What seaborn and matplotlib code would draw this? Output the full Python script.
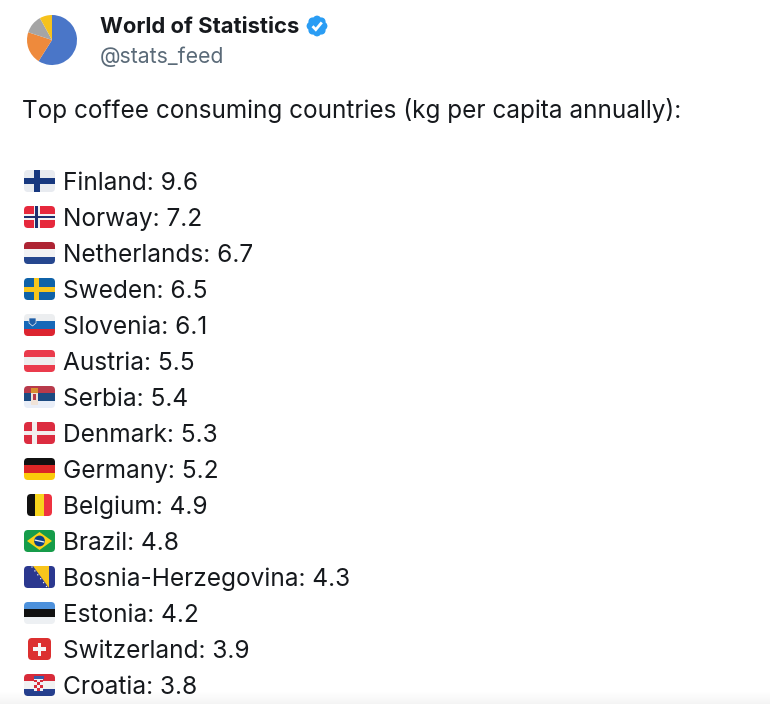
import matplotlib

matplotlib.use("Agg")

import matplotlib.pyplot as plt
import numpy as np
import seaborn as sns
from matplotlib.patches import Circle, FancyBboxPatch, Polygon, Rectangle

countries = [
    "Finland", "Norway", "Netherlands", "Sweden", "Slovenia",
    "Austria", "Serbia", "Denmark", "Germany", "Belgium",
    "Brazil", "Bosnia-Herzegovina", "Estonia", "Switzerland", "Croatia",
]
consumption = [9.6, 7.2, 6.7, 6.5, 6.1, 5.5, 5.4, 5.3, 5.2, 4.9, 4.8, 4.3, 4.2, 3.9, 3.8]

account_name = "World of Statistics"
account_handle = "@stats_feed"
headline = "Top coffee consuming countries (kg per capita annually):"

avatar_shares = [59, 21, 12, 8]
avatar_colors = ["#4a76c8", "#ee8a3c", "#a5a5a5", "#f6c21c"]

INK = "#16191d"
MUTED = "#5a6a78"
FONT = "Inter"
ROW_START = 181
ROW_STEP = 36


def flag_base(ax, cy, left=24, right=55):
    box = FancyBboxPatch((left + 3, cy - 8), right - left - 6, 16,
                         boxstyle="round,pad=3,rounding_size=4", fc="none", ec="none")
    ax.add_patch(box)
    return box


def paint(ax, clip, patch):
    ax.add_patch(patch)
    patch.set_clip_path(clip)
    return patch


def rect(ax, clip, x, y, w, h, color):
    paint(ax, clip, Rectangle((x, y), w, h, fc=color, ec="none"))


def h_stripes(ax, cy, colors, left=24, right=55):
    clip = flag_base(ax, cy, left, right)
    step = 22 / len(colors)
    for i, color in enumerate(colors):
        rect(ax, clip, left, cy - 11 + i * step, right - left, step + 0.2, color)
    return clip


def v_stripes(ax, cy, colors, left, right):
    clip = flag_base(ax, cy, left, right)
    step = (right - left) / len(colors)
    for i, color in enumerate(colors):
        rect(ax, clip, left + i * step, cy - 11, step + 0.2, 22, color)
    return clip


def nordic(ax, cy, bg, arm, arm_w, inner=None, inner_w=0):
    clip = h_stripes(ax, cy, [bg])
    rect(ax, clip, 36.5 - arm_w / 2, cy - 11, arm_w, 22, arm)
    rect(ax, clip, 24, cy - arm_w / 2, 31, arm_w, arm)
    if inner:
        rect(ax, clip, 36.5 - inner_w / 2, cy - 11, inner_w, 22, inner)
        rect(ax, clip, 24, cy - inner_w / 2, 31, inner_w, inner)


def draw_flag(ax, name, cy):
    if name == "Finland":
        nordic(ax, cy, "#e8ebf0", "#17387f", 6)
    elif name == "Norway":
        nordic(ax, cy, "#e6283c", "#f2f2f2", 6, "#1d2f6f", 2.6)
    elif name == "Netherlands":
        h_stripes(ax, cy, ["#ae2433", "#f2f2f4", "#26478f"])
    elif name == "Sweden":
        nordic(ax, cy, "#0f62a8", "#f7c61d", 5)
    elif name == "Slovenia":
        clip = h_stripes(ax, cy, ["#eceef0", "#1668b8", "#dc2430"])
        paint(ax, clip, Polygon([(29, cy - 7), (36, cy - 7), (36, cy - 2), (32.5, cy + 1), (29, cy - 2)],
                                fc="#1f5fa8", ec="#eeeeee", lw=0.5))
    elif name == "Austria":
        h_stripes(ax, cy, ["#ea3b4c", "#eeeeee", "#ea3b4c"])
    elif name == "Serbia":
        clip = h_stripes(ax, cy, ["#b83a4b", "#1c4b82", "#e9eef8"])
        rect(ax, clip, 31, cy - 9, 7, 17, "#f0e3d8")
        rect(ax, clip, 31, cy - 9, 7, 5, "#d9902f")
        rect(ax, clip, 33, cy - 3, 3, 6, "#b83a4b")
    elif name == "Denmark":
        clip = h_stripes(ax, cy, ["#dc2c40"])
        rect(ax, clip, 32, cy - 11, 4.5, 22, "#f2eeee")
        rect(ax, clip, 24, cy - 2.2, 31, 4.4, "#f2eeee")
    elif name == "Germany":
        h_stripes(ax, cy, ["#111111", "#dc2626", "#fbcb0a"])
    elif name == "Belgium":
        v_stripes(ax, cy, ["#111111", "#f7d51d", "#ee3340"], 27, 52)
    elif name == "Brazil":
        clip = h_stripes(ax, cy, ["#169c4a"])
        paint(ax, clip, Polygon([(27, cy), (39.5, cy - 9), (52, cy), (39.5, cy + 9)], fc="#fbd116", ec="none"))
        paint(ax, clip, Circle((39.5, cy), 5.4, fc="#0d3f88", ec="none"))
        paint(ax, clip, Rectangle((34.5, cy - 0.6), 10, 1.3, angle=12, rotation_point="center", fc="#eeeeee", ec="none"))
    elif name == "Bosnia-Herzegovina":
        clip = h_stripes(ax, cy, ["#2b388f"])
        paint(ax, clip, Polygon([(33, cy - 11), (49, cy - 11), (49, cy + 11)], fc="#f8c51c", ec="none"))
        for k in range(6):
            paint(ax, clip, Circle((32 + k * 2.9, cy - 10 + k * 3.9), 0.7, fc="#f2f2f2", ec="none"))
    elif name == "Estonia":
        h_stripes(ax, cy, ["#4d91dc", "#111111", "#edf0f3"])
    elif name == "Switzerland":
        clip = v_stripes(ax, cy, ["#dc3030"], 28, 51)
        rect(ax, clip, 37.7, cy - 6.5, 3.6, 13, "#f6f6f6")
        rect(ax, clip, 33, cy - 1.8, 13, 3.6, "#f6f6f6")
    elif name == "Croatia":
        clip = h_stripes(ax, cy, ["#d82b3a", "#f1f1f1", "#26408f"])
        rect(ax, clip, 34, cy - 7, 9, 13, "#eef0f6")
        for row in range(4):
            for col in range(3):
                if (row + col) % 2 == 0:
                    rect(ax, clip, 34 + col * 3, cy - 5.5 + row * 2.8, 3, 2.8, "#d82b3a")
        rect(ax, clip, 33.5, cy - 9, 10, 3, "#3a59a8")


def draw_badge(ax, cx, cy):
    for angle in np.arange(8) * np.pi / 4:
        ax.add_patch(Circle((cx + 6.2 * np.cos(angle), cy + 6.2 * np.sin(angle)), 4.2, fc="#2a9df4", ec="none"))
    ax.add_patch(Circle((cx, cy), 7, fc="#2a9df4", ec="none"))
    ax.plot([cx - 4.5, cx - 1.2, cx + 4.8], [cy + 0.2, cy + 3.6, cy - 3.6], color="white", lw=2.0,
            solid_capstyle="butt", solid_joinstyle="miter")


sns.set_theme(style="white")
plt.rcParams["font.family"] = [FONT, "DejaVu Sans"]

fig = plt.figure(figsize=(7.7, 7.04), dpi=100, facecolor="white")
ax = fig.add_axes([0, 0, 1, 1])
ax.set_xlim(0, 770)
ax.set_ylim(704, 0)
ax.axis("off")

ax.text(100, 33, account_name, fontsize=15.85, fontweight="bold", color=INK)
ax.text(100, 63, account_handle, fontsize=15.3, color=MUTED)
ax.text(22, 118, headline, fontsize=17.5, color=INK)
draw_badge(ax, 317, 26)

for i, (country, value) in enumerate(zip(countries, consumption)):
    cy = ROW_START + i * ROW_STEP
    draw_flag(ax, country, cy)
    ax.text(63, cy + 9, f"{country}: {value}", fontsize=17.6, color=INK)

# faint shadow along the bottom edge of the screenshot
for k, y in enumerate(range(692, 704)):
    ax.add_patch(Rectangle((0, y), 770, 1, fc="#000000", ec="none", alpha=0.0035 * (k + 1)))

# avatar pie, top edge is cut flat in the original
pie_ax = fig.add_axes([27 / 770, 1 - 65 / 704, 50 / 770, 49 / 704])
pie_ax.pie(avatar_shares, colors=sns.color_palette(avatar_colors), startangle=90, counterclock=False,
           radius=1.0, wedgeprops={"linewidth": 0})
pie_ax.set_xlim(-1, 1)
pie_ax.set_ylim(-1, 0.96)

fig.savefig("out.png", dpi=100, facecolor="white")
